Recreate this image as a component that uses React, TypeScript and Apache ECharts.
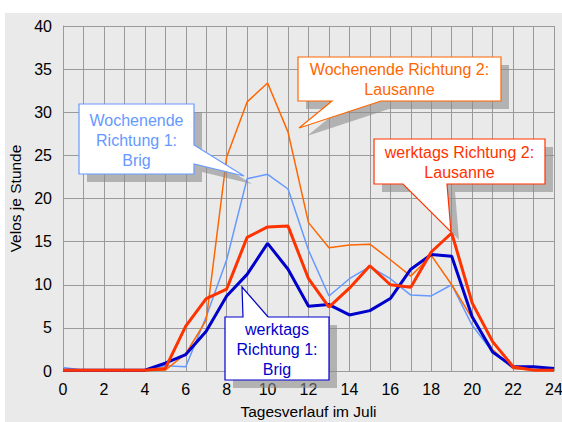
import React, { useEffect, useRef } from "react";
import * as echarts from "echarts";

const hours = [0, 1, 2, 3, 4, 5, 6, 7, 8, 9, 10, 11, 12, 13, 14, 15, 16, 17, 18, 19, 20, 21, 22, 23, 24];
const werktagsR1 = [0.1, 0.1, 0.1, 0.1, 0.1, 0.9, 1.9, 4.6, 8.7, 11.2, 14.8, 11.8, 7.5, 7.7, 6.5, 7.0, 8.4, 11.8, 13.5, 13.3, 6.3, 2.2, 0.5, 0.5, 0.3];
const werktagsR2 = [0.1, 0.1, 0.1, 0.1, 0.1, 0.3, 5.2, 8.4, 9.5, 15.5, 16.7, 16.8, 10.7, 7.4, 9.6, 12.2, 10.0, 9.7, 13.8, 16.0, 7.9, 3.4, 0.5, 0.1, 0.1];
const wochenendeR1 = [0.4, 0.1, 0.1, 0.1, 0.1, 0.6, 0.5, 6.3, 12.9, 22.3, 22.8, 21.1, 14.0, 8.7, 10.7, 12.1, 10.7, 8.8, 8.7, 10.0, 5.3, 2.2, 0.3, 0.2, 0.2];
const wochenendeR2 = [0.1, 0.1, 0.1, 0.1, 0.1, 0.1, 2.0, 5.9, 24.8, 31.2, 33.4, 27.7, 17.2, 14.3, 14.6, 14.7, 12.9, 11.0, 13.4, 10.0, 6.1, 2.5, 0.3, 0.1, 0.1];

const FONT = "'Liberation Sans', Arial, sans-serif";

function pairs(vals: number[]) {
  return hours.map((h, i) => [h, vals[i]]);
}

function callout(points: number[][], color: string, text: string, cx: number, cy: number) {
  const shadow = points.map(([x, y]) => [x + 8, y + 8]);
  return [
    { type: "polygon", z: 50, shape: { points: shadow }, style: { fill: "rgba(140,140,140,0.6)" }, silent: true },
    { type: "polygon", z: 51, shape: { points }, style: { fill: "#ffffff", stroke: color, lineWidth: 1.2 }, silent: true },
    {
      type: "text",
      z: 52,
      x: cx,
      y: cy,
      style: {
        text,
        fill: color,
        font: `16px ${FONT}`,
        align: "center",
        verticalAlign: "middle",
        lineHeight: 20,
      },
      silent: true,
    },
  ];
}

export default function App() {
  const ref = useRef<HTMLDivElement>(null);
  useEffect(() => {
    if (!ref.current) return;
    const chart = echarts.init(ref.current, null, { renderer: "svg" });
    const gridColor = "#9a9a9a";
    chart.setOption({
      animation: false,
      backgroundColor: "transparent",
      textStyle: { fontFamily: FONT },
      grid: { left: 63, right: 8, top: 26, bottom: 51, containLabel: false, outerBoundsMode: "none" },
      xAxis: {
        type: "value",
        min: 0,
        max: 24,
        interval: 1,
        name: "Tagesverlauf im Juli",
        nameLocation: "middle",
        nameGap: 32,
        nameTextStyle: { fontSize: 15.5, color: "#000", fontFamily: FONT },
        axisLine: { show: true, lineStyle: { color: gridColor, width: 1 } },
        axisTick: { show: false },
        axisLabel: {
          fontSize: 16,
          color: "#000",
          margin: 10,
          fontFamily: FONT,
          formatter: (v: number) => (v % 2 === 0 ? String(v) : ""),
        },
        splitLine: { show: true, lineStyle: { color: gridColor, width: 1 } },
      },
      yAxis: {
        type: "value",
        min: 0,
        max: 40,
        interval: 5,
        name: "Velos je Stunde",
        nameLocation: "middle",
        nameGap: 37,
        nameTextStyle: { fontSize: 15.5, color: "#000", fontFamily: FONT },
        axisLine: { show: true, lineStyle: { color: gridColor, width: 1 } },
        axisTick: { show: false },
        axisLabel: { fontSize: 16, color: "#000", margin: 11, fontFamily: FONT },
        splitLine: { show: true, lineStyle: { color: gridColor, width: 1 } },
      },
      series: [
        { name: "Wochenende Richtung 1", type: "line", data: pairs(wochenendeR1), showSymbol: false, lineStyle: { color: "#6699FF", width: 1.5 }, itemStyle: { color: "#6699FF" }, z: 2 },
        { name: "Wochenende Richtung 2", type: "line", data: pairs(wochenendeR2), showSymbol: false, lineStyle: { color: "#FF6600", width: 1.5 }, itemStyle: { color: "#FF6600" }, z: 3 },
        { name: "werktags Richtung 1", type: "line", data: pairs(werktagsR1), showSymbol: false, lineStyle: { color: "#0000CC", width: 3 }, itemStyle: { color: "#0000CC" }, z: 4 },
        { name: "werktags Richtung 2", type: "line", data: pairs(werktagsR2), showSymbol: false, lineStyle: { color: "#FF3300", width: 3 }, itemStyle: { color: "#FF3300" }, z: 5 },
      ],
      graphic: [
        ...callout(
          [[79, 104], [194, 104], [194, 145], [244, 176], [194, 164], [194, 174], [79, 174]],
          "#6699FF",
          "Wochenende\nRichtung 1:\nBrig",
          136.5,
          140
        ),
        ...callout(
          [[298, 57], [501, 57], [501, 101], [381, 101], [299, 128], [332, 101], [298, 101]],
          "#FF6600",
          "Wochenende Richtung 2:\nLausanne",
          399.5,
          79
        ),
        ...callout(
          [[374, 139], [545, 139], [545, 184], [447, 184], [451, 232], [403, 184], [374, 184]],
          "#FF3300",
          "werktags Richtung 2:\nLausanne",
          459.5,
          162
        ),
        ...callout(
          [[225, 317], [243, 317], [242, 287], [268, 317], [329, 317], [329, 380], [225, 380]],
          "#0000CC",
          "werktags\nRichtung 1:\nBrig",
          277,
          349
        ),
      ],
    });
    return () => chart.dispose();
  }, []);
  return (
    <div style={{ position: "fixed", left: 0, top: 0, width: 562, height: 422, background: "#ffffff" }}>
      <div style={{ position: "absolute", left: 5, top: 13, right: 0, bottom: 0, background: "#EAEAEA" }} />
      <div ref={ref} style={{ position: "absolute", left: 0, top: 0, width: 562, height: 422 }} />
    </div>
  );
}
